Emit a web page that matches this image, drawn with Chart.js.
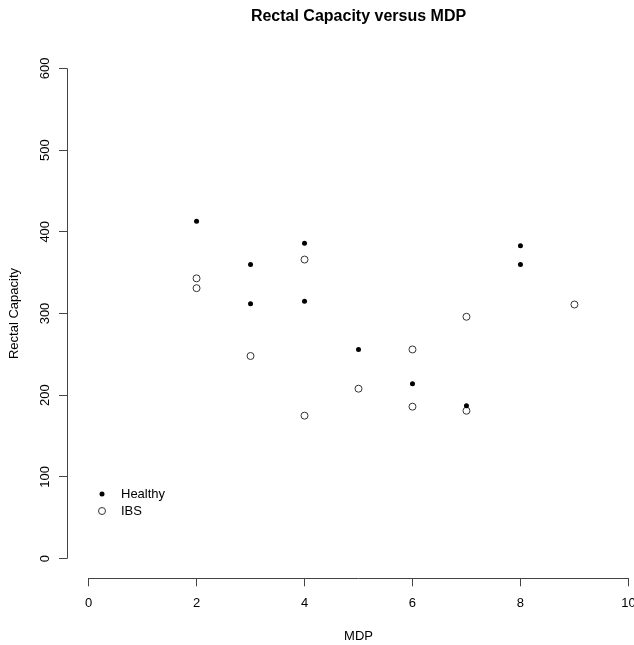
<!DOCTYPE html>
<html>
<head>
<meta charset="utf-8">
<script src="https://cdn.jsdelivr.net/npm/chart.js@4/dist/chart.umd.min.js"></script>
<style>
  html, body { margin: 0; padding: 0; overflow: hidden; background: #fff; }
  canvas { display: block; }
</style>
</head>
<body>
<canvas id="canvas" width="655" height="645"></canvas>
<script>
// data
var healthyMDP = [2, 3, 3, 4, 4, 5, 6, 7, 8, 8];
var healthyCapacity = [413, 360, 312, 386, 315, 256, 214, 187, 383, 360];
var ibsMDP = [2, 2, 3, 4, 4, 5, 6, 6, 7, 7, 9];
var ibsCapacity = [343, 331, 248, 366, 175, 208, 256, 186, 296, 181, 311];
var seriesNames = ["Healthy", "IBS"];
var xTicks = [0, 2, 4, 6, 8, 10];
var yTicks = [0, 100, 200, 300, 400, 500, 600];

var FONT = "'Liberation Sans', Arial, Helvetica, sans-serif";
var AXIS = "#444";

function toPoints(xs, ys) {
  return xs.map(function(x, i) { return { x: x, y: ys[i] }; });
}

// R style axes: line only from first to last tick
var rAxes = {
  id: "rAxes",
  afterDraw: function(chart) {
    var ctx = chart.ctx, xs = chart.scales.x, ys = chart.scales.y;
    var area = chart.chartArea;
    ctx.save();
    ctx.strokeStyle = AXIS;
    ctx.lineWidth = 1;
    var lx = Math.round(area.left) + 0.5;
    var by = Math.round(area.bottom) + 0.5;
    ctx.beginPath();
    ctx.moveTo(lx, ys.getPixelForValue(yTicks[0]));
    ctx.lineTo(lx, ys.getPixelForValue(yTicks[yTicks.length - 1]));
    ctx.moveTo(xs.getPixelForValue(xTicks[0]), by);
    ctx.lineTo(xs.getPixelForValue(xTicks[xTicks.length - 1]), by);
    ctx.stroke();
    ctx.restore();
  }
};

// legend inside the plot, bottom left
var insideLegend = {
  id: "insideLegend",
  afterDraw: function(chart) {
    var ctx = chart.ctx;
    ctx.save();
    ctx.font = "13px " + FONT;
    ctx.textBaseline = "middle";
    ctx.fillStyle = "#000";
    chart.data.datasets.forEach(function(ds, i) {
      var cx = 102, cy = 494 + i * 17;
      ctx.beginPath();
      ctx.arc(cx, cy, ds.pointRadius, 0, Math.PI * 2);
      if (ds.backgroundColor !== "rgba(0,0,0,0)") {
        ctx.fillStyle = ds.backgroundColor;
        ctx.fill();
      }
      if (ds.borderWidth > 0) {
        ctx.strokeStyle = ds.borderColor;
        ctx.lineWidth = ds.borderWidth;
        ctx.stroke();
      }
      ctx.fillStyle = "#000";
      ctx.fillText(ds.label, 121, cy);
    });
    ctx.restore();
  }
};

var ctx = document.getElementById("canvas").getContext("2d");
var chart = new Chart(ctx, {
  type: "scatter",
  data: {
    datasets: [
      {
        label: seriesNames[0],
        data: toPoints(healthyMDP, healthyCapacity),
        pointRadius: 2.5,
        backgroundColor: "#000",
        borderColor: "#000",
        borderWidth: 0
      },
      {
        label: seriesNames[1],
        data: toPoints(ibsMDP, ibsCapacity),
        pointRadius: 3.5,
        backgroundColor: "rgba(0,0,0,0)",
        borderColor: "#333",
        borderWidth: 1
      }
    ]
  },
  options: {
    responsive: false,
    animation: false,
    events: [],
    layout: { padding: 0 },
    plugins: {
      legend: { display: false },
      tooltip: { enabled: false },
      title: {
        display: true,
        fullSize: false,
        text: "Rectal Capacity versus MDP",
        color: "#000",
        font: { family: FONT, size: 16, weight: "bold", lineHeight: 1.2 },
        padding: { top: 7, bottom: 22.5 }
      }
    },
    scales: {
      x: {
        type: "linear",
        min: -0.4,
        max: 10.4,
        border: { display: false },
        grid: { drawOnChartArea: false, color: AXIS, tickLength: 8 },
        ticks: { color: "#000", font: { family: FONT, size: 13 }, padding: 9, maxRotation: 0, autoSkip: false },
        afterBuildTicks: function(s) { s.ticks = xTicks.map(function(v) { return { value: v }; }); },
        afterFit: function(s) { s.height = 66.7; },
        title: { display: true, text: "MDP", color: "#000", font: { family: FONT, size: 13 }, padding: { top: 0, bottom: 1 } }
      },
      y: {
        type: "linear",
        min: -24,
        max: 624,
        border: { display: false },
        grid: { drawOnChartArea: false, color: AXIS, tickLength: 8 },
        ticks: { color: "#000", font: { family: FONT, size: 13 }, padding: 3, minRotation: 90, maxRotation: 90, crossAlign: "center", autoSkip: false },
        afterBuildTicks: function(s) { s.ticks = yTicks.map(function(v) { return { value: v }; }); },
        afterFit: function(s) { s.width = 67; },
        title: { display: true, text: "Rectal Capacity", color: "#000", font: { family: FONT, size: 13 }, padding: { top: 7, bottom: 0 } }
      }
    }
  },
  plugins: [rAxes, insideLegend]
});
</script>
</body>
</html>
